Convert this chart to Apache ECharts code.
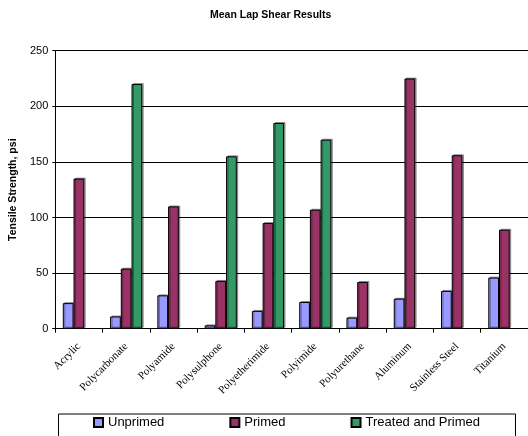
<!DOCTYPE html>
<html>
<head>
<meta charset="utf-8">
<script src="https://cdn.jsdelivr.net/npm/echarts@6/dist/echarts.min.js"></script>
<style>
html, body { margin: 0; padding: 0; background: #fff; }
#container { width: 528px; height: 436px; }
</style>
</head>
<body>
<div id="container"></div>
<script>
var categories = ['Acrylic', 'Polycarbonate', 'Polyamide', 'Polysulphone', 'Polyetherimide',
    'Polyimide', 'Polyurethane', 'Aluminum', 'Stainless Steel', 'Titanium'];
var unprimed = [23, 11, 30, 3, 16, 24, 10, 27, 34, 46];
var primed = [135, 54, 110, 43, 95, 107, 42, 225, 156, 89];
var treatedPrimed = [null, 220, null, 155, 185, 170, null, null, null, null];
var yTicks = { min: 0, max: 250, step: 50 };

var dom = document.getElementById('container');
var myChart = echarts.init(dom);

function barSeries(name, data, color) {
    return {
        name: name,
        type: 'bar',
        data: data,
        barGap: 0,
        barCategoryGap: '32%',
        itemStyle: {
            color: color,
            borderColor: '#000',
            borderWidth: 1,
            shadowColor: 'rgba(0,0,0,0.35)',
            shadowOffsetX: 1.5,
            shadowOffsetY: -1
        }
    };
}

var option = {
    animation: false,
    title: {
        text: 'Mean Lap Shear Results',
        left: 205,
        top: 5,
        textStyle: { fontFamily: 'Liberation Sans, Arial', fontSize: 10.5, fontWeight: 'bold', color: '#000' }
    },
    grid: { left: 55, top: 50.7, width: 483, height: 278 },
    legend: {
        left: 93,
        top: 416,
        padding: 0,
        itemWidth: 9,
        itemHeight: 9,
        itemGap: 65,
        icon: 'rect',
        textStyle: { fontFamily: 'Liberation Sans, Arial', fontSize: 13, color: '#000' },
        data: ['Unprimed', 'Primed', 'Treated and Primed']
    },
    graphic: [{
        type: 'rect',
        left: 56,
        top: 411.5,
        shape: { width: 457, height: 22.5 },
        style: { fill: 'none', stroke: '#000', lineWidth: 1 },
        z: -1
    }],
    xAxis: {
        type: 'category',
        data: categories,
        axisLine: { lineStyle: { color: '#000', width: 1 } },
        axisTick: { show: true, length: 4, lineStyle: { color: '#000' } },
        axisLabel: {
            interval: 0,
            rotate: 45,
            margin: 16,
            fontFamily: 'Liberation Serif, Times New Roman',
            fontSize: 11,
            color: '#000'
        }
    },
    yAxis: {
        type: 'value',
        min: yTicks.min,
        max: yTicks.max,
        interval: yTicks.step,
        name: 'Tensile Strength, psi',
        nameLocation: 'middle',
        nameGap: 29,
        nameTextStyle: { fontFamily: 'Liberation Sans, Arial', fontSize: 10.5, fontWeight: 'bold', color: '#000' },
        axisLine: { show: true, lineStyle: { color: '#000', width: 1 } },
        axisTick: { show: true, length: 3, lineStyle: { color: '#000' } },
        axisLabel: { margin: 7, fontFamily: 'Liberation Sans, Arial', fontSize: 11, color: '#000' },
        splitLine: { show: true, lineStyle: { color: '#000', width: 1 } }
    },
    series: [
        barSeries('Unprimed', unprimed, '#9999ff'),
        barSeries('Primed', primed, '#993366'),
        barSeries('Treated and Primed', treatedPrimed, '#339966')
    ]
};

if (option && typeof option === 'object') {
    myChart.setOption(option, true);
}
</script>
</body>
</html>
